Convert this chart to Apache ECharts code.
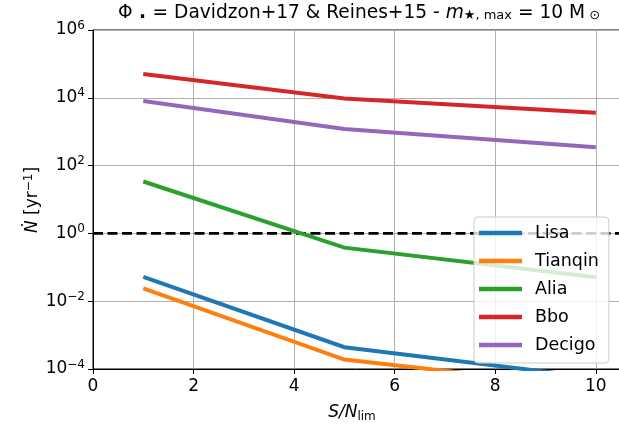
<!DOCTYPE html>
<html>
<head>
<meta charset="utf-8">
<script src="https://cdn.jsdelivr.net/npm/echarts@6/dist/echarts.min.js"></script>
<style>
html,body{margin:0;padding:0;background:#fff;}
#chart{width:619px;height:428px;}
</style>
</head>
<body>
<div id="chart"></div>
<script>
// ---- data ----
const snrValues = [1, 5, 10];
const seriesNames = ['Lisa', 'Tianqin', 'Alia', 'Bbo', 'Decigo'];
const lisa    = [0.052, 4.4e-4, 5.5e-5];
const tianqin = [0.024, 1.9e-4, 2.8e-5];
const alia    = [34, 0.38, 0.051];
const bbo     = [5.0e4, 9.5e3, 3.6e3];
const decigo  = [8.0e3, 1.2e3, 350];
const thresholdRate = 1;
const xTicks = [0, 2, 4, 6, 8, 10];
const yExponents = [-4, -2, 0, 2, 4, 6];

const colors = ['#1f77b4', '#ff7f0e', '#2ca02c', '#d62728', '#9467bd'];
const allValues = [lisa, tianqin, alia, bbo, decigo];
const FONT = 'DejaVu Sans';

const chart = echarts.init(document.getElementById('chart'));

const xMax = 10.64;

const lineSeries = seriesNames.map((name, i) => ({
  name: name,
  type: 'line',
  data: snrValues.map((x, j) => [x, allValues[i][j]]),
  symbol: 'none',
  clip: true,
  z: 3,
  lineStyle: { color: colors[i], width: 4, cap: 'butt', join: 'miter' },
  itemStyle: { color: colors[i] }
}));

const dashed = {
  name: 'threshold',
  type: 'line',
  data: [[0, thresholdRate], [xMax, thresholdRate]],
  symbol: 'none',
  z: 2,
  silent: true,
  lineStyle: { color: '#000', width: 2.7, type: [10, 4.5] }
};

chart.setOption({
  animation: false,
  backgroundColor: '#fff',
  textStyle: { fontFamily: FONT },
  grid: {
    left: 93, top: 30, width: 535, height: 339,
    outerBoundsMode: 'none', containLabel: false,
    show: true, borderColor: '#000', borderWidth: 1, backgroundColor: 'transparent'
  },
  xAxis: {
    type: 'value', min: 0, max: xMax, interval: 2,
    axisLine: { show: true, lineStyle: { color: '#000', width: 1 } },
    axisTick: { show: true, length: 5, lineStyle: { color: '#000', width: 1 } },
    axisLabel: {
      color: '#000', fontSize: 17, fontFamily: FONT, margin: 9,
      formatter: v => (xTicks.indexOf(v) >= 0 ? String(v) : '')
    },
    splitLine: { show: true, lineStyle: { color: '#b0b0b0', width: 1 } }
  },
  yAxis: {
    type: 'log', logBase: 10, min: 1e-4, max: 1e6, interval: 2,
    axisLine: { show: true, lineStyle: { color: '#000', width: 1 } },
    axisTick: { show: true, length: 5, lineStyle: { color: '#000', width: 1 } },
    minorTick: { show: false },
    axisLabel: {
      color: '#000', fontFamily: FONT, margin: 8,
      formatter: v => {
        const e = Math.round(Math.log10(v));
        if (yExponents.indexOf(e) < 0) return '';
        return '{b|10}{s|' + (e < 0 ? '\u2212' + (-e) : e) + '}';
      },
      rich: {
        b: { fontSize: 17, fontFamily: FONT, color: '#000' },
        s: { fontSize: 12, fontFamily: FONT, color: '#000', padding: [0, 0, 9, 0] }
      }
    },
    splitLine: { show: true, lineStyle: { color: '#b0b0b0', width: 1 } }
  },
  legend: {
    data: seriesNames,
    orient: 'vertical',
    left: 474, top: 217,
    icon: 'rect',
    itemWidth: 43, itemHeight: 4.5,
    itemGap: 10,
    padding: [7, 10, 9, 5],
    backgroundColor: 'rgba(255,255,255,0.8)',
    borderColor: '#cccccc', borderWidth: 1, borderRadius: 4,
    textStyle: { fontSize: 17.5, fontFamily: FONT, color: '#000', padding: [0, 0, 0, 8] }
  },
  graphic: [
    {
      type: 'text', x: 359, y: 13,
      style: {
        text: 'Φ{d| . }= Davidzon+17 & Reines+15 - {i|m}{sub|★, max} = 10 M{sub| ⊙}',
        font: '18.6px "DejaVu Sans"', fill: '#000',
        align: 'center', verticalAlign: 'middle',
        rich: {
          d: { fontSize: 18.6, fontWeight: 'bold', fontFamily: FONT },
          i: { fontSize: 18.6, fontStyle: 'italic', fontFamily: FONT },
          sub: { fontSize: 13, fontFamily: FONT, padding: [6, 0, 0, 0] }
        }
      }
    },
    {
      type: 'text', x: 33, y: 200, rotation: Math.PI / 2,
      style: {
        text: '{i|Ṅ} [yr{s|\u22121}]',
        font: '17px "DejaVu Sans"', fill: '#000',
        align: 'center', verticalAlign: 'middle',
        rich: {
          i: { fontSize: 17, fontStyle: 'italic', fontFamily: FONT },
          s: { fontSize: 12, fontFamily: FONT, padding: [0, 0, 9, 0] }
        }
      }
    },
    {
      type: 'text', x: 352, y: 413,
      style: {
        text: '{i|S/N}{sub|lim}',
        font: '17px "DejaVu Sans"', fill: '#000',
        align: 'center', verticalAlign: 'middle',
        rich: {
          i: { fontSize: 17, fontStyle: 'italic', fontFamily: FONT },
          sub: { fontSize: 12, fontFamily: FONT, padding: [7, 0, 0, 0] }
        }
      }
    }
  ],
  series: [dashed].concat(lineSeries)
});
</script>
</body>
</html>
